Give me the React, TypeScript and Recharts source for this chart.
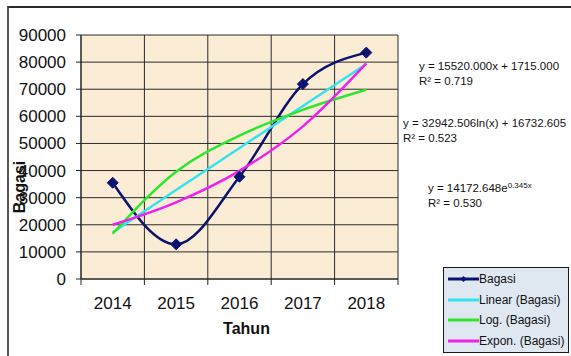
import React from 'react'
import { LineChart, Line, XAxis, YAxis, CartesianGrid, Legend } from 'recharts'

// data
const years = [2014, 2015, 2016, 2017, 2018]
const bagasi = [35500, 12800, 37700, 71900, 83500]
const linearTrend = [17200, 32800, 48300, 63800, 79300]
const logTrend = [16700, 39600, 52900, 62400, 69800]
const exponTrend = [20000, 28300, 39900, 56300, 79500]

const yTicks = [0, 10000, 20000, 30000, 40000, 50000, 60000, 70000, 80000, 90000]
const yMinorTicks = Array.from({ length: 46 }, (_, i) => i * 2000)
const bandEdges = [2013.5, 2014.5, 2015.5, 2016.5, 2017.5, 2018.5]

const data = years.map((year, i) => ({
  year,
  bagasi: bagasi[i],
  linear: linearTrend[i],
  log: logTrend[i],
  expon: exponTrend[i],
}))

const FONT = '"Liberation Sans", Arial, sans-serif'
const NAVY = '#0c136e'

const legendItems = [
  { name: 'Bagasi', color: NAVY, marker: true },
  { name: 'Linear (Bagasi)', color: '#33e3ee', marker: false },
  { name: 'Log. (Bagasi)', color: '#2ee62e', marker: false },
  { name: 'Expon. (Bagasi)', color: '#ee22ee', marker: false },
]

const Diamond = (props: any) => {
  const { cx, cy } = props
  if (cx == null || cy == null) return null
  const s = 5.5
  return (
    <polygon
      points={`${cx},${cy - s} ${cx + s},${cy} ${cx},${cy + s} ${cx - s},${cy}`}
      fill={NAVY}
      stroke={NAVY}
    />
  )
}

const LegendBox = () => (
  <div
    style={{
      width: 124,
      height: 83,
      border: '1px solid #1a1a1a',
      background: '#dfe7f1',
      fontFamily: FONT,
      fontSize: 12,
      color: '#111',
      paddingTop: 1,
      boxSizing: 'content-box',
    }}
  >
    {legendItems.map((item) => (
      <div key={item.name} style={{ display: 'flex', alignItems: 'center', height: 20.5 }}>
        <svg width={35} height={10} style={{ flex: 'none' }}>
          <line x1={4} x2={35} y1={5} y2={5} stroke={item.color} strokeWidth={3} />
          {item.marker && <polygon points="19.5,2 22.5,5 19.5,8 16.5,5" fill={item.color} />}
        </svg>
        <span style={{ whiteSpace: 'nowrap' }}>{item.name}</span>
      </div>
    ))}
  </div>
)

const eqStyle: React.CSSProperties = {
  position: 'absolute',
  fontFamily: FONT,
  fontSize: 11.5,
  lineHeight: '15px',
  color: '#111',
  whiteSpace: 'nowrap',
}

export default function App() {
  return (
    <div
      style={{
        position: 'fixed',
        left: 0,
        top: 0,
        width: 571,
        height: 356,
        overflow: 'hidden',
        background: '#fff',
      }}
    >
      {/* chart area frame */}
      <div
        style={{
          position: 'absolute',
          left: 7,
          top: 6,
          width: 600,
          height: 348,
          borderTop: '2px solid #2a2a2a',
          borderLeft: '2px solid #555',
        }}
      />
      <div style={{ position: 'absolute', left: 0, top: 0 }}>
        <LineChart width={571} height={356} data={data} margin={{ top: 35, right: 173, bottom: 21, left: 0 }}>
          <CartesianGrid
            xAxisId="edges"
            yAxisId="main"
            stroke="#2a2a2a"
            strokeWidth={1}
            fill="#fbedd5"
            fillOpacity={1}
          />
          <XAxis
            xAxisId="edges"
            dataKey="year"
            type="number"
            domain={[2013.5, 2018.5]}
            ticks={bandEdges}
            height={6}
            stroke="#222"
            tickSize={6}
            tick={() => <g />}
            interval={0}
          />
          <XAxis
            xAxisId="labels"
            dataKey="year"
            type="number"
            domain={[2013.5, 2018.5]}
            ticks={years}
            height={50}
            axisLine={false}
            tickLine={false}
            tickSize={0}
            tickMargin={12}
            interval={0}
            tick={{ fill: '#111', fontSize: 17, fontFamily: FONT }}
            label={{
              content: ({ viewBox }: any) => (
                <text
                  x={viewBox.x + viewBox.width / 2 + 7}
                  y={viewBox.y + 43}
                  textAnchor="middle"
                  dominantBaseline="central"
                  fontFamily={FONT}
                  fontSize={16}
                  fontWeight="bold"
                  fill="#111"
                >
                  Tahun
                </text>
              ),
            }}
          />
          {/* minor tick marks, sits right on the plot edge */}
          <YAxis
            yAxisId="minor"
            domain={[0, 90000]}
            ticks={yMinorTicks}
            width={0}
            axisLine={false}
            tickSize={5}
            stroke="#222"
            tick={() => <g />}
            interval={0}
          />
          <YAxis
            yAxisId="main"
            domain={[0, 90000]}
            ticks={yTicks}
            width={81}
            stroke="#222"
            tickSize={5}
            tickMargin={10}
            interval={0}
            tick={{ fill: '#111', fontSize: 17, fontFamily: FONT }}
            label={{
              content: ({ viewBox }: any) => {
                const x = viewBox.x + 19
                const y = 187
                return (
                  <text
                    x={x}
                    y={y}
                    transform={`rotate(-90 ${x} ${y})`}
                    textAnchor="middle"
                    dominantBaseline="central"
                    fontFamily={FONT}
                    fontSize={16}
                    fontWeight="bold"
                    fill="#111"
                  >
                    Bagasi
                  </text>
                )
              },
            }}
          />
          <Line
            xAxisId="edges"
            yAxisId="main"
            type="monotone"
            dataKey="bagasi"
            stroke={NAVY}
            strokeWidth={2.5}
            dot={<Diamond />}
            isAnimationActive={false}
          />
          <Line
            xAxisId="edges"
            yAxisId="main"
            type="monotone"
            dataKey="linear"
            stroke="#33e3ee"
            strokeWidth={2.5}
            dot={false}
            isAnimationActive={false}
          />
          <Line
            xAxisId="edges"
            yAxisId="main"
            type="monotone"
            dataKey="log"
            stroke="#2ee62e"
            strokeWidth={2.5}
            dot={false}
            isAnimationActive={false}
          />
          <Line
            xAxisId="edges"
            yAxisId="main"
            type="monotone"
            dataKey="expon"
            stroke="#ee22ee"
            strokeWidth={2.5}
            dot={false}
            isAnimationActive={false}
          />
          <Legend
            layout="horizontal"
            align="center"
            verticalAlign="middle"
            wrapperStyle={{ left: 443, top: 267, width: 126 }}
            content={() => <LegendBox />}
          />
        </LineChart>
      </div>

      {/* trendline equations */}
      <div style={{ ...eqStyle, left: 419, top: 59 }}>
        y = 15520.000x + 1715.000
        <br />
        R² = 0.719
      </div>
      <div style={{ ...eqStyle, left: 403, top: 116 }}>
        y = 32942.506ln(x) + 16732.605
        <br />
        R² = 0.523
      </div>
      <div style={{ ...eqStyle, left: 428, top: 181 }}>
        y = 14172.648e<sup style={{ fontSize: 8, verticalAlign: 'top', lineHeight: '10px' }}>0.345x</sup>
        <br />
        R² = 0.530
      </div>
    </div>
  )
}
